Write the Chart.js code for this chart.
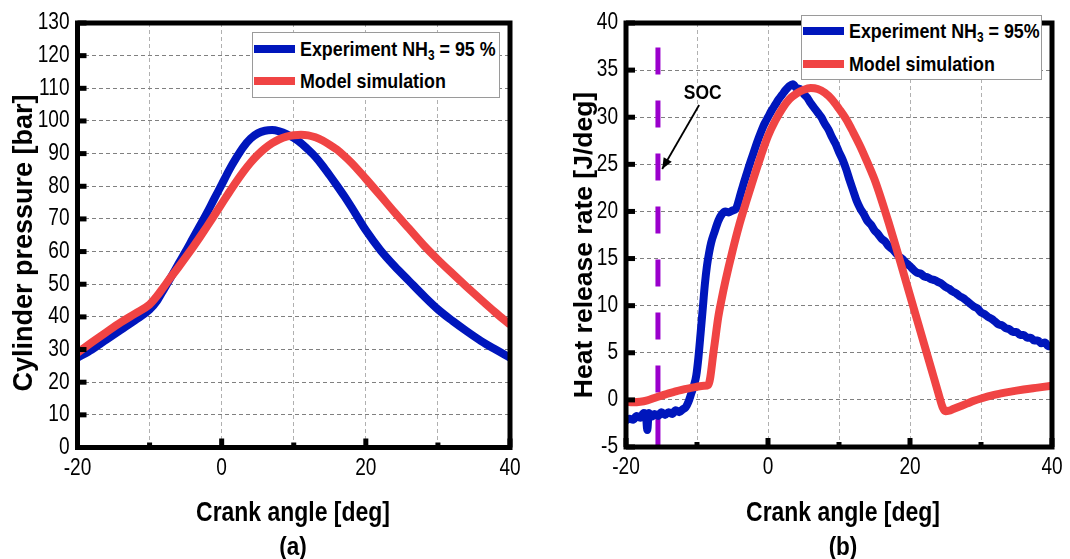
<!DOCTYPE html>
<html>
<head>
<meta charset="utf-8">
<script src="https://cdn.jsdelivr.net/npm/chart.js@4.4.1/dist/chart.umd.min.js"></script>
<style>
    body { margin: 0; background: #fff; }
    #page { position: relative; width: 1070px; height: 559px; overflow: hidden; background: #fff;
            font-family: 'Liberation Sans', Arial, sans-serif; color: #000; }
    .panel { position: absolute; top: 0; width: 535px; height: 559px; }
    .legend { position: absolute; background: #fff; border: 1px solid #9a9a9a; box-sizing: border-box; }
    .swatch { position: absolute; width: 41px; height: 8px; }
    .ltext { position: absolute; font-weight: bold; font-size: 21px; line-height: 24px; white-space: nowrap;
             transform: scaleX(0.85); transform-origin: 0 50%; }
    .ltext sub { font-size: 14px; vertical-align: -4px; line-height: 0; }
    .ytitle { position: absolute; width: 340px; height: 32px; line-height: 32px; text-align: center;
              font-weight: bold; transform: rotate(-90deg); white-space: nowrap; }
    .xtitle { position: absolute; width: 300px; text-align: center; font-weight: bold; font-size: 27px;
              line-height: 30px; white-space: nowrap; transform: scaleX(0.85); }
    .sub { position: absolute; width: 100px; text-align: center; font-weight: bold; font-size: 25px;
           line-height: 28px; transform: scaleX(0.9); }
</style>
</head>
<body>
<div id="page">
    <div class="panel" style="left:0"><canvas id="chart-pressure" width="535" height="559"></canvas></div>
    <div class="panel" style="left:535px"><canvas id="chart-hrr" width="535" height="559"></canvas></div>

    <!-- legend (a) -->
    <div class="legend" style="left:252px; top:32px; width:248px; height:66px;"></div>
    <div class="swatch" style="left:254px; top:45px; background:#0016BC;"></div>
    <div class="ltext" style="left:300px; top:37px;">Experiment NH<sub>3</sub> = 95 %</div>
    <div class="swatch" style="left:254px; top:77px; background:#F04444;"></div>
    <div class="ltext" style="left:300px; top:69px;">Model simulation</div>

    <!-- legend (b) -->
    <div class="legend" style="left:801px; top:15px; width:241px; height:65px;"></div>
    <div class="swatch" style="left:803px; top:27px; background:#0016BC;"></div>
    <div class="ltext" style="left:849px; top:19px;">Experiment NH<sub>3</sub> = 95%</div>
    <div class="swatch" style="left:803px; top:60px; background:#F04444;"></div>
    <div class="ltext" style="left:849px; top:52px;">Model simulation</div>

    <div class="ytitle" style="left:-147px; top:227px; font-size:27px;">Cylinder pressure [bar]</div>
    <div class="ytitle" style="left:413px; top:229px; font-size:26.5px;">Heat release rate [J/deg]</div>
    <div class="xtitle" style="left:143px; top:497px;">Crank angle [deg]</div>
    <div class="xtitle" style="left:693px; top:497px;">Crank angle [deg]</div>
    <div class="sub" style="left:243px; top:532px;">(a)</div>
    <div class="sub" style="left:793px; top:532px;">(b)</div>
</div>

<script>
// (a) cylinder pressure
const pressureAngle = [-20, -18, -16, -14, -12, -10, -9, -8, -7, -6, -5, -4, -3, -2, -1, 0, 1, 2, 3, 4, 5, 6, 7, 8, 9,
    10, 11, 12, 13, 14, 15, 16, 17, 18, 20, 22, 24, 26, 28, 30, 32, 34, 36, 38, 40];
const pressureExp = [27.5, 30, 33, 36, 39, 42.2, 44.8, 48.5, 52.3, 56.2, 60, 64, 68, 72, 76.3, 80.5, 84.8, 88.6, 92, 94.6, 96.2, 97, 97.2, 96.8, 96,
    94.8, 93.2, 91.2, 89, 86.3, 83.3, 80.2, 77, 73.6, 66.5, 60.5, 55.5, 51, 46.5, 42.3, 38.8, 35.6, 32.6, 30, 27.5];
const pressureModel = [29, 32.2, 35.3, 38.3, 41, 43.8, 46.3, 49.3, 52.3, 55.2, 58.2, 61.3, 64.5, 67.8, 71.2, 74.6, 78, 81.3, 84.4, 87.2, 89.6, 91.6, 93.2, 94.4, 95.2,
    95.6, 95.8, 95.6, 95, 94, 92.7, 91.2, 89.3, 87.2, 82.3, 77.2, 72, 67, 62, 57.5, 53.3, 49.2, 45.2, 41.3, 37.6];

// (b) heat release rate
const hrrExpAngle = [-20, -19.5, -19, -18.5, -18, -17.5, -17.2, -17, -16.8, -16.4, -16, -15.5, -15, -14.5, -14, -13.5, -13, -12.5, -12, -11.6,
    -11.2, -10.8, -10.4, -10.1, -9.8, -9.5, -9.2, -8.9, -8.6, -8.3, -8, -7.5, -7, -6.5, -6, -5.5, -5, -4.5, -4, -3.5,
    -3, -2.5, -2, -1.5, -1, -0.5, 0, 0.5, 1, 1.5, 2, 2.5, 3, 3.5, 4, 4.5, 5, 5.5, 6, 6.5,
    7, 7.5, 8, 8.5, 9, 9.5, 10, 10.5, 11, 11.5, 12, 12.5, 13, 13.5, 14, 14.5, 15, 15.5, 16, 16.5,
    17, 17.5, 18, 18.5, 19, 19.5, 20, 20.5, 21, 21.5, 22, 22.5, 23, 23.5, 24, 24.5, 25, 25.5, 26, 26.5,
    27, 27.5, 28, 28.5, 29, 29.5, 30, 30.5, 31, 31.5, 32, 32.5, 33, 33.5, 34, 34.5, 35, 35.5, 36, 36.5,
    37, 37.5, 38, 38.5, 39, 39.5, 40];
const hrrExp = [-2.2, -2.0, -2.1, -1.7, -1.9, -1.4, -1.6, -3.2, -1.4, -1.8, -1.5, -1.7, -1.3, -1.6, -1.3, -1.5, -1.1, -1.3, -1.0, -0.8,
    -0.2, 0.7, 1.6, 2.6, 4.5, 7, 9.6, 12.2, 14.2, 15.6, 16.7, 17.9, 19.0, 19.7, 20.0, 19.9, 20.1, 20.3, 21.5, 22.8,
    24, 25.2, 26.3, 27.4, 28.4, 29.3, 30.0, 30.7, 31.3, 31.9, 32.4, 32.9, 33.3, 33.5, 33.1, 33.0, 32.5, 32.1, 31.5, 31.0,
    30.5, 30.0, 29.3, 28.7, 27.9, 27.2, 26.3, 25.5, 24.5, 23.3, 22.2, 21.1, 20.3, 19.7, 19.0, 18.6, 18.0, 17.6, 17.1, 16.8,
    16.3, 16.0, 15.6, 15.2, 14.9, 14.5, 14.2, 13.8, 13.5, 13.4, 13.1, 13.0, 12.8, 12.7, 12.5, 12.3, 12.0, 11.8, 11.5, 11.3,
    11.0, 10.8, 10.5, 10.2, 9.9, 9.7, 9.3, 9.1, 8.8, 8.6, 8.3, 8.0, 7.9, 7.6, 7.5, 7.2, 7.2, 6.9, 6.9, 6.6,
    6.6, 6.3, 6.3, 6.0, 6.1, 5.7, 5.7];
const hrrModelAngle = [-20, -19, -18, -17, -16, -15, -14, -13, -12, -11, -10, -9, -8.4, -7.6, -7, -6.5, -6, -5, -4, -3,
    -2, -1, 0, 1, 2, 3, 4, 5, 6, 7, 8, 9, 10, 11, 12, 13, 14, 15, 16, 17,
    18, 19, 20, 21, 22, 23, 24, 24.6, 25, 25.5, 26, 27, 28, 29, 30, 32, 34, 36, 38, 40];
const hrrModel = [-0.2, -0.25, -0.2, -0.05, 0.2, 0.45, 0.7, 0.9, 1.1, 1.25, 1.4, 1.5, 1.6, 5.5, 8.8, 10.8, 12.6, 15.8, 18.7, 21.2,
    23.6, 25.9, 28.0, 29.6, 30.9, 31.9, 32.5, 32.9, 33.1, 33.0, 32.6, 31.9, 30.9, 29.8, 28.4, 26.9, 25.2, 23.4, 21.2, 18.8,
    16.3, 13.7, 11.1, 8.5, 5.9, 3.3, 0.7, -0.8, -1.2, -1.15, -1.0, -0.7, -0.4, -0.1, 0.15, 0.55, 0.85, 1.1, 1.3, 1.5];

// start of combustion marker
const socAngle = -15.5;
const socRange = [37.4, -5];
const socLabel = 'SOC';
const socTextAt = [-9.2, 32.6];
const socArrowFrom = [-9.7, 31.3];
const socArrowTo = [-14.9, 24.5];

const xRange = [-20, 40];
const xLabelEvery = 20;
const pressureRange = [0, 130];
const hrrRange = [-5, 40];

const BLUE = '#0016BC';
const RED = '#F04444';
const PURPLE = '#9A00CC';
const NARROW = 0.83;   // the figure's text is horizontally squeezed

let charts = {};

function toPoints(xs, ys) {
    return xs.map((x, i) => ({ x: x, y: ys[i] }));
}

function narrowText(ctx, text, x, y, align) {
    ctx.save();
    ctx.translate(x, y);
    ctx.scale(NARROW, 1);
    ctx.textAlign = align;
    ctx.fillText(text, 0, 0);
    ctx.restore();
}

// 外框 + 内侧刻度 + 刻度文字
const framePlugin = {
    id: 'frame',
    afterDatasetsDraw(chart) {
        const { ctx, chartArea: a } = chart;
        const xs = chart.scales.x, ys = chart.scales.y;
        ctx.save();
        ctx.fillStyle = '#000';
        xs.ticks.forEach(t => {
            const px = xs.getPixelForValue(t.value);
            const big = t.value % xLabelEvery === 0;
            ctx.fillRect(px - 2.5, a.bottom - (big ? 9 : 5), 5, big ? 9 : 5);
        });
        ys.ticks.forEach(t => {
            const py = ys.getPixelForValue(t.value);
            ctx.fillRect(a.left, py - 2.5, 9, 5);
        });
        ctx.strokeStyle = '#000';
        ctx.lineWidth = 5;
        ctx.strokeRect(a.left, a.top, a.right - a.left, a.bottom - a.top);

        ctx.font = "23px 'Liberation Sans', Arial, sans-serif";
        ctx.textBaseline = 'middle';
        xs.ticks.forEach(t => {
            if (t.value % xLabelEvery !== 0) return;
            narrowText(ctx, String(t.value), xs.getPixelForValue(t.value), a.bottom + 21, 'center');
        });
        ys.ticks.forEach(t => {
            narrowText(ctx, String(t.value), a.left - 8, ys.getPixelForValue(t.value), 'right');
        });
        ctx.restore();
    }
};

const socPlugin = {
    id: 'soc',
    afterDatasetsDraw(chart) {
        const { ctx } = chart;
        const xs = chart.scales.x, ys = chart.scales.y;
        const x1 = xs.getPixelForValue(socArrowFrom[0]), y1 = ys.getPixelForValue(socArrowFrom[1]);
        const x2 = xs.getPixelForValue(socArrowTo[0]), y2 = ys.getPixelForValue(socArrowTo[1]);
        ctx.save();
        ctx.strokeStyle = '#000';
        ctx.fillStyle = '#000';
        ctx.lineWidth = 1.8;
        ctx.beginPath();
        ctx.moveTo(x1, y1);
        ctx.lineTo(x2, y2);
        ctx.stroke();
        const ang = Math.atan2(y2 - y1, x2 - x1);
        ctx.beginPath();
        ctx.moveTo(x2, y2);
        ctx.lineTo(x2 - 12 * Math.cos(ang - 0.4), y2 - 12 * Math.sin(ang - 0.4));
        ctx.lineTo(x2 - 12 * Math.cos(ang + 0.4), y2 - 12 * Math.sin(ang + 0.4));
        ctx.closePath();
        ctx.fill();
        ctx.font = "bold 21px 'Liberation Sans', Arial, sans-serif";
        ctx.textBaseline = 'middle';
        narrowText(ctx, socLabel, xs.getPixelForValue(socTextAt[0]), ys.getPixelForValue(socTextAt[1]), 'center');
        ctx.restore();
    }
};

function lineSet(label, data, color, order) {
    return {
        label: label,
        data: data,
        borderColor: color,
        backgroundColor: color,
        borderWidth: 8,
        pointRadius: 0,
        cubicInterpolationMode: 'monotone',
        borderJoinStyle: 'round',
        fill: false,
        order: order
    };
}

function axisOptions(range, step, gridColor, fitSize, horizontal) {
    return {
        type: 'linear',
        min: range[0],
        max: range[1],
        afterFit: scale => {
            if (horizontal) scale.height = fitSize; else scale.width = fitSize;
        },
        ticks: { stepSize: step, autoSkip: false, display: false },
        grid: { color: gridColor, lineWidth: 1, drawTicks: false },
        border: { display: false, dash: [4, 3] }
    };
}

function baseOptions(yAxis, padRight, xHeight) {
    return {
        responsive: false,
        animation: false,
        layout: { padding: { left: 0, top: 23, right: padRight, bottom: 0 } },
        plugins: { legend: { display: false }, tooltip: { enabled: false } },
        scales: {
            x: axisOptions(xRange, 10, '#b0b0b0', xHeight, true),
            y: yAxis
        }
    };
}

function initCharts() {
    charts.pressure = new Chart(document.getElementById('chart-pressure'), {
        type: 'line',
        data: {
            datasets: [
                lineSet('Model simulation', toPoints(pressureAngle, pressureModel), RED, 0),
                lineSet('Experiment NH3 = 95 %', toPoints(pressureAngle, pressureExp), BLUE, 1)
            ]
        },
        options: baseOptions(axisOptions(pressureRange, 10, '#808080', 77.5, false), 25, 111.5),
        plugins: [framePlugin]
    });

    const soc = lineSet('SOC', toPoints([socAngle, socAngle], socRange), PURPLE, 2);
    soc.borderWidth = 5;
    soc.borderDash = [27, 26];
    soc.cubicInterpolationMode = 'default';

    charts.hrr = new Chart(document.getElementById('chart-hrr'), {
        type: 'line',
        data: {
            datasets: [
                lineSet('Model simulation', toPoints(hrrModelAngle, hrrModel), RED, 0),
                lineSet('Experiment NH3 = 95%', toPoints(hrrExpAngle, hrrExp), BLUE, 1),
                soc
            ]
        },
        options: baseOptions(axisOptions(hrrRange, 5, '#808080', 91, false), 18, 112),
        plugins: [framePlugin, socPlugin]
    });
}

document.addEventListener('DOMContentLoaded', initCharts);
</script>
</body>
</html>
